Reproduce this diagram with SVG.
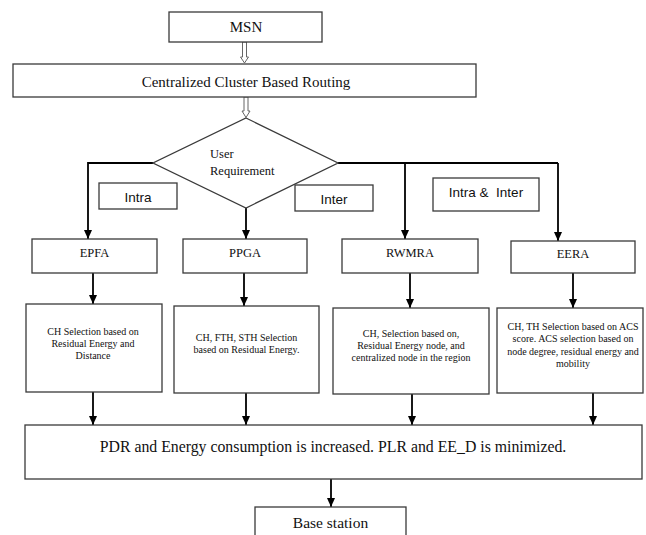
<svg xmlns="http://www.w3.org/2000/svg" width="646" height="535" viewBox="0 0 646 535">
<defs>
<marker id="ah" markerWidth="10" markerHeight="10" refX="9" refY="5" orient="auto" markerUnits="userSpaceOnUse">
<path d="M0,1 L9,5 L0,9 Z" fill="#000"/>
</marker>
<style>
.box{fill:#fff;stroke:#3a3a3a;stroke-width:1.3}
.ln{fill:none;stroke:#000;stroke-width:1.8}
.arr{fill:none;stroke:#000;stroke-width:1.8;marker-end:url(#ah)}
.dbl{fill:#fff;stroke:#666;stroke-width:1}
.t{font-family:"Liberation Serif","Times New Roman",serif;fill:#111;text-anchor:middle}
.s{font-family:"Liberation Sans",Arial,sans-serif;fill:#111;text-anchor:middle;font-size:13.5px}
.d{font-size:10px}
</style>
</defs>
<rect width="646" height="535" fill="#fff"/>
<g id="connectors">
<path class="dbl" d="M242.5,42 V57 H240.5 L244.5,63 L248.5,57 H246.5 V42 Z"/>
<path class="dbl" d="M244,97 V111 H242 L246,117.5 L250,111 H248 V97 Z"/>
<polyline class="arr" points="153,163 88,163 88,239"/>
<line class="arr" x1="246" y1="208" x2="246" y2="239"/>
<polyline class="ln" points="338,163 558,163"/>
<line class="arr" x1="405" y1="163" x2="405" y2="239"/>
<line class="arr" x1="558" y1="163" x2="558" y2="241"/>
<line class="arr" x1="93" y1="273" x2="93" y2="304"/>
<line class="arr" x1="244" y1="273" x2="244" y2="306"/>
<line class="arr" x1="410" y1="273" x2="410" y2="308"/>
<line class="arr" x1="573" y1="273" x2="573" y2="308"/>
<line class="arr" x1="93" y1="392" x2="93" y2="425"/>
<line class="arr" x1="246" y1="393" x2="246" y2="425"/>
<line class="arr" x1="412" y1="394" x2="412" y2="425"/>
<line class="arr" x1="593" y1="393" x2="593" y2="425"/>
<line class="arr" x1="331" y1="479" x2="331" y2="507"/>
</g>
<g id="msn"><rect class="box" x="169" y="12" width="153" height="30"/><text class="t" x="246" y="32" font-size="15">MSN</text></g>
<g id="ccbr"><rect class="box" x="13" y="64" width="463" height="33"/><text class="t" x="246" y="86.5" font-size="15">Centralized Cluster Based Routing</text></g>
<g id="decision"><polygon class="box" points="246,118 338,163 246,208 153,163"/>
<text class="t" x="210" y="158" font-size="12.5" text-anchor="start" style="text-anchor:start">User</text>
<text class="t" x="210" y="175" font-size="12.5" style="text-anchor:start">Requirement</text></g>
<g id="lbl-intra"><rect class="box" x="99" y="183" width="78" height="26"/><text class="s" x="138" y="202">Intra</text></g>
<g id="lbl-inter"><rect class="box" x="295" y="185" width="78" height="26"/><text class="s" x="334" y="204">Inter</text></g>
<g id="lbl-both"><rect class="box" x="433" y="178" width="106" height="33"/><text class="s" x="486" y="197">Intra &amp;&#160; Inter</text></g>
<g id="epfa"><rect class="box" x="32" y="239" width="125" height="34"/><text class="t" x="94.5" y="257" font-size="12.5">EPFA</text></g>
<g id="ppga"><rect class="box" x="183" y="239" width="124" height="34"/><text class="t" x="245" y="257" font-size="12.5">PPGA</text></g>
<g id="rwmra"><rect class="box" x="342" y="239" width="136" height="34"/><text class="t" x="410" y="257" font-size="12.5">RWMRA</text></g>
<g id="eera"><rect class="box" x="511" y="241" width="124" height="32"/><text class="t" x="573" y="258" font-size="12.5">EERA</text></g>
<g id="desc1"><rect class="box" x="26" y="304" width="136" height="88"/>
<text class="t d" x="93" y="334.5">CH Selection based on</text>
<text class="t d" x="93" y="346.5">Residual Energy and</text>
<text class="t d" x="93" y="358.5">Distance</text></g>
<g id="desc2"><rect class="box" x="174" y="306" width="145" height="87"/>
<text class="t d" x="246.5" y="340.5">CH, FTH, STH Selection</text>
<text class="t d" x="246.5" y="353">based on Residual Energy.</text></g>
<g id="desc3"><rect class="box" x="333" y="308" width="156" height="86"/>
<text class="t d" x="411" y="336.5">CH, Selection based on,</text>
<text class="t d" x="411" y="348.5">Residual Energy node, and</text>
<text class="t d" x="411" y="360.5">centralized node in the region</text></g>
<g id="desc4"><rect class="box" x="497" y="308" width="146" height="85"/>
<text class="t d" x="573" y="329.5">CH, TH Selection based on ACS</text>
<text class="t d" x="573" y="342">score. ACS selection based on</text>
<text class="t d" x="573" y="354.5">node degree, residual energy and</text>
<text class="t d" x="573" y="366.5">mobility</text></g>
<g id="result"><rect class="box" x="25" y="425" width="617" height="54"/><text class="t" x="333" y="452" font-size="15.8">PDR and Energy consumption is increased. PLR and EE_D is minimized.</text></g>
<g id="base"><rect class="box" x="255" y="507" width="151" height="40"/><text class="t" x="330.5" y="528" font-size="15.5">Base station</text></g>
</svg>
